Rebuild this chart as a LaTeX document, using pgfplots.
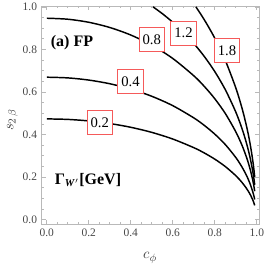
\documentclass[border=0pt]{standalone}
\usepackage{fontspec}
\setmainfont{Liberation Serif}
\usepackage{pgfplots}
\pgfplotsset{compat=1.18}
\definecolor{lblred}{RGB}{245,90,90}
\definecolor{framegray}{RGB}{185,185,185}
\definecolor{txtgray}{RGB}{70,70,70}
\begin{document}
\begin{tikzpicture}
\path[use as bounding box] (-31.3pt,-31.3pt) rectangle (168.2pt,168.2pt);
\begin{axis}[
  at={(0,0)}, anchor=south west,
  scale only axis, width=163.2pt, height=163.7pt,
  xmin=-0.024, xmax=1.012, ymin=-0.022, ymax=1.004,
  xtick={0,0.2,0.4,0.6,0.8,1.0}, ytick={0,0.2,0.4,0.6,0.8,1.0},
  minor tick num=3,
  xticklabel style={/pgf/number format/.cd,fixed,fixed zerofill,precision=1},
  yticklabel style={/pgf/number format/.cd,fixed,fixed zerofill,precision=1},
  /pgf/number format/assume math mode=true,
  ticklabel style={font=\fontsize{8.6}{9}\selectfont, text=txtgray},
  axis line style={framegray, line width=0.6pt},
  tick style={framegray, line width=0.5pt},
  major tick length=3.2pt, minor tick length=1.8pt,
  tick align=inside,
  xtick pos=both, ytick pos=both,
  clip=false,
]
\addplot[black, line width=1.1pt, smooth] coordinates {
(0,0.4733)(0.1,0.4709)(0.2,0.4637)(0.3,0.4515)(0.4,0.4338)(0.5,0.4099)(0.6,0.3786)(0.7,0.3380)(0.75,0.3131)(0.8,0.2840)(0.85,0.2493)(0.9,0.2063)(0.93,0.1740)(0.95,0.1478)(0.96,0.1325)(0.97,0.1151)(0.98,0.0942)(0.985,0.0817)(0.99,0.0668)};
\addplot[black, line width=1.1pt, smooth] coordinates {
(0,0.6693)(0.1,0.6660)(0.2,0.6558)(0.3,0.6385)(0.4,0.6134)(0.5,0.5796)(0.6,0.5354)(0.7,0.4780)(0.75,0.4427)(0.8,0.4016)(0.85,0.3526)(0.9,0.2917)(0.93,0.2461)(0.95,0.2090)(0.96,0.1874)(0.97,0.1627)(0.98,0.1332)(0.985,0.1155)(0.99,0.0944)};
\addplot[black, line width=1.1pt, smooth] coordinates {
(0,0.9465)(0.1,0.9418)(0.2,0.9274)(0.3,0.9029)(0.4,0.8675)(0.5,0.8197)(0.6,0.7572)(0.7,0.6759)(0.75,0.6260)(0.8,0.5679)(0.85,0.4986)(0.9,0.4126)(0.93,0.3480)(0.95,0.2955)(0.96,0.2650)(0.97,0.2301)(0.98,0.1884)(0.985,0.1633)(0.99,0.1335)};
\addplot[black, line width=1.1pt, smooth] coordinates {
(0.5058,1.0)(0.55,0.9681)(0.6,0.9274)(0.65,0.8809)(0.7,0.8278)(0.75,0.7667)(0.8,0.6955)(0.85,0.6106)(0.9,0.5053)(0.93,0.4262)(0.95,0.3620)(0.96,0.3246)(0.97,0.2818)(0.98,0.2307)(0.985,0.2000)(0.99,0.1635)};
\addplot[black, line width=1.1pt, smooth] coordinates {
(0.7099,1.0)(0.73,0.9704)(0.75,0.9391)(0.77,0.9059)(0.8,0.8519)(0.85,0.7479)(0.9,0.6189)(0.93,0.5221)(0.95,0.4433)(0.96,0.3975)(0.97,0.3452)(0.98,0.2825)(0.985,0.2450)(0.99,0.2003)};
\tikzset{lbl/.style={draw=lblred, line width=0.75pt, fill=white, inner sep=0pt, minimum width=18.9pt, minimum height=18pt, font=\fontsize{11}{12}\selectfont}}
\node[lbl] at (axis cs:0.252,0.455) {0.2};
\node[lbl] at (axis cs:0.399,0.649) {0.4};
\node[lbl] at (axis cs:0.500,0.846) {0.8};
\node[lbl] at (axis cs:0.651,0.877) {1.2};
\node[lbl] at (axis cs:0.858,0.793) {1.8};
\node[font=\fontsize{12}{13}\selectfont\bfseries] at (axis cs:0.12,0.83) {(a) FP};
\node[font=\fontsize{12}{13}\selectfont\bfseries] at (axis cs:0.196,0.186) {Γ\textsubscript{\textit{W}$'$}[GeV]};
\node[font=\fontsize{11}{12}\selectfont, rotate=90, text=txtgray] at (rel axis cs:-0.135,0.478) {$s_{2\,\beta}$};
\node[font=\fontsize{11}{12}\selectfont, text=txtgray] at (rel axis cs:0.498,-0.154) {$c_{\phi}$};
\end{axis}
\end{tikzpicture}
\end{document}
